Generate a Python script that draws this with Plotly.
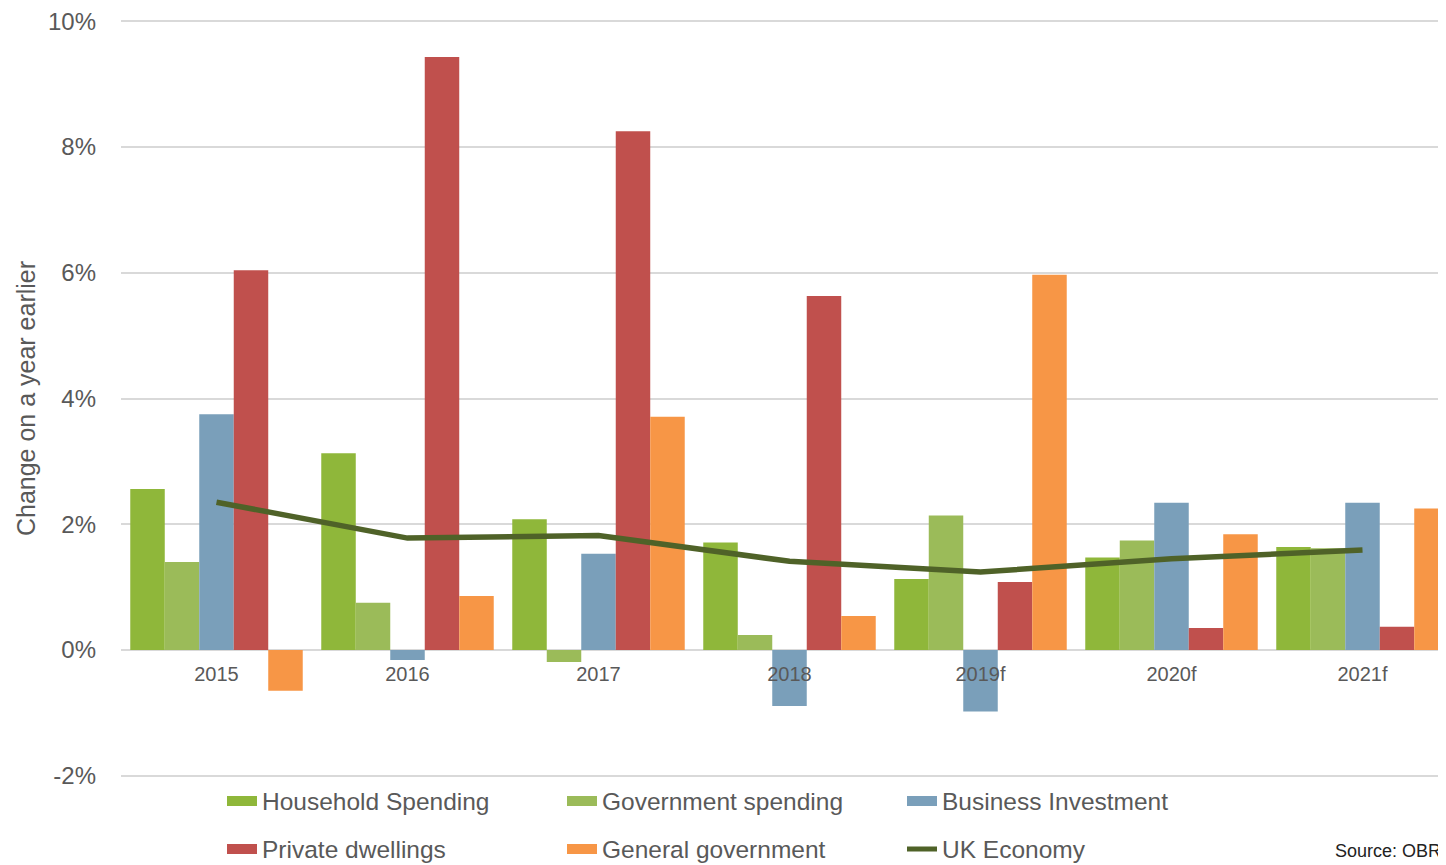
import plotly.graph_objects as go

categories = ["2015", "2016", "2017", "2018", "2019f", "2020f", "2021f"]
household = [2.56, 3.13, 2.08, 1.71, 1.13, 1.47, 1.64]
government = [1.40, 0.75, -0.19, 0.24, 2.14, 1.74, 1.62]
business = [3.75, -0.16, 1.53, -0.89, -0.98, 2.34, 2.34]
private = [6.04, 9.43, 8.25, 5.63, 1.08, 0.35, 0.37]
general_gov = [-0.65, 0.86, 3.71, 0.54, 5.97, 1.84, 2.25]
uk_economy = [2.35, 1.78, 1.82, 1.41, 1.24, 1.45, 1.59]

y_tickvals = [-2, 0, 2, 4, 6, 8, 10]
y_ticktext = ["-2%", "0%", "2%", "4%", "6%", "8%", "10%"]

series = [
    ("Household Spending", household, "#8FB73A", "legend"),
    ("Government spending", government, "#9BBB59", "legend"),
    ("Business Investment", business, "#7A9FBA", "legend"),
    ("Private dwellings", private, "#C0504D", "legend2"),
    ("General government", general_gov, "#F79646", "legend2"),
]

FONT = "Liberation Sans, Arial, sans-serif"
GREY = "#595959"

fig = go.Figure()
for name, vals, col, _ in series:
    fig.add_trace(go.Bar(x=categories, y=vals, name=name, marker_color=col,
                         marker_line_width=0, showlegend=False))
fig.add_trace(go.Scatter(x=categories, y=uk_economy, name="UK Economy", mode="lines",
                         line=dict(color="#4F6228", width=5.5), showlegend=False))

# legend entries (wide swatches like the original)
for name, vals, col, lg in series:
    fig.add_trace(go.Scatter(x=[None], y=[None], mode="lines", name=name,
                             line=dict(color=col, width=11), legend=lg))
fig.add_trace(go.Scatter(x=[None], y=[None], mode="lines", name="UK Economy",
                         line=dict(color="#4F6228", width=5), legend="legend2"))

# page body has an 8px margin, so the figure is sized to fit the window
OFF = 8
W, H = 1446 - OFF, 865 - OFF
L, T, R, B = 121 - OFF, 20 - OFF, 0, H - (777 - OFF)
pw = W - L - R
ph = H - T - B
spacing = 191.0
xmax = -0.5 + pw / spacing
YPAD = 0.02

def cy(pix):  # screen pixel -> container fraction
    return (H - (pix - OFF)) / H

def py(pix):  # screen pixel -> paper fraction
    return (H - B - (pix - OFF)) / ph

leg_common = dict(orientation="h", xanchor="left", yanchor="middle",
                  xref="container", yref="container",
                  x=(222 - OFF) / W, entrywidth=295, entrywidthmode="pixels",
                  font=dict(family=FONT, size=24.5, color=GREY),
                  bgcolor="rgba(0,0,0,0)")

fig.update_layout(
    width=W, height=H,
    margin=dict(l=L, r=R, t=T, b=B, autoexpand=False),
    plot_bgcolor="white", paper_bgcolor="white",
    barmode="group", bargap=0.097, bargroupgap=0,
    font=dict(family=FONT, color=GREY),
    legend=dict(y=cy(801), **leg_common),
    legend2=dict(y=cy(849), **leg_common),
    xaxis=dict(range=[-0.5, xmax], showgrid=False, showline=False, zeroline=False,
               anchor="free", position=(0 - (-2 - YPAD)) / (12 + 2 * YPAD), ticks="",
               automargin=False,
               tickfont=dict(family=FONT, size=20, color=GREY),
               ticklabelstandoff=10),
    yaxis=dict(range=[-2 - YPAD, 10 + YPAD], tickvals=y_tickvals, ticktext=y_ticktext,
               showgrid=True, gridcolor="#D9D9D9", gridwidth=2,
               zeroline=True, zerolinecolor="#D9D9D9", zerolinewidth=2,
               showline=False, ticks="", automargin=False, ticklabeloverflow="allow",
               tickfont=dict(family=FONT, size=24, color=GREY),
               ticklabelstandoff=24,
               title=dict(text="Change on a year earlier",
                          font=dict(family=FONT, size=25, color=GREY),
                          standoff=5)),
    annotations=[dict(text="Source: OBR", xref="paper", yref="paper",
                      x=(1443 - OFF - L) / pw, y=py(863), xanchor="right", yanchor="bottom",
                      showarrow=False, font=dict(family=FONT, size=18, color="#222222"))],
)

fig.write_html("out.html")
